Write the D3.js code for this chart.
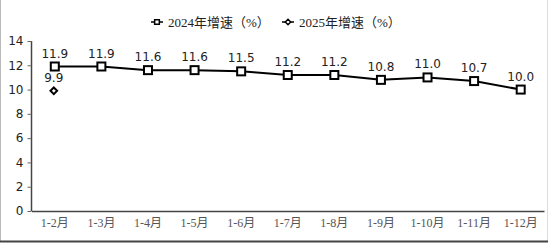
<!DOCTYPE html>
<html>
<head>
<meta charset="utf-8">
<script src="https://cdn.jsdelivr.net/npm/d3@7"></script>
<style>
body { margin: 0; background: #fff; }
svg { display: block; }
</style>
</head>
<body>
<div id="chart"></div>
<script>
var WIDTH = 548;
var HEIGHT = 243;

var months = ['1-2月', '1-3月', '1-4月', '1-5月', '1-6月', '1-7月', '1-8月', '1-9月', '1-10月', '1-11月', '1-12月'];
var growth2024 = [11.9, 11.9, 11.6, 11.6, 11.5, 11.2, 11.2, 10.8, 11.0, 10.7, 10.0];
var growth2025 = [9.9];
var yTicks = [0, 2, 4, 6, 8, 10, 12, 14];
var seriesNames = ['2024年增速（%）', '2025年增速（%）'];

var plotLeft = 31.5, plotRight = 544, plotTop = 41, plotBottom = 211;

var svg = d3.select('#chart').append('svg')
	.attr('width', WIDTH)
	.attr('height', HEIGHT);

// frame
svg.append('line').attr('x1', 0.5).attr('x2', 0.5).attr('y1', 0).attr('y2', 241)
	.attr('stroke', '#bbb');
svg.append('line').attr('x1', 547.5).attr('x2', 547.5).attr('y1', 0).attr('y2', 241)
	.attr('stroke', '#ddd');
svg.append('line').attr('x1', 0).attr('x2', WIDTH).attr('y1', 241.5).attr('y2', 241.5)
	.attr('stroke', '#444').attr('stroke-width', 2);

var x = d3.scaleBand().domain(months).range([plotLeft, plotRight]);
var y = d3.scaleLinear().domain([0, 14]).range([plotBottom, plotTop]);

function cx(i) { return x(months[i]) + x.bandwidth()/2; }

// y axis
var yAxis = svg.append('g')
	.attr('transform', 'translate('+plotLeft+',0)')
	.call(d3.axisLeft(y).tickValues(yTicks).tickSize(4).tickPadding(4));
yAxis.select('.domain').attr('stroke', '#444').attr('stroke-width', 1.5).attr('d', 'M0,'+plotTop+'V'+plotBottom);
yAxis.selectAll('.tick line').attr('stroke', '#666');
yAxis.selectAll('text')
	.attr('font-family', '"DejaVu Sans", sans-serif')
	.attr('font-size', 12)
	.attr('fill', '#222');

// x axis
var xAxis = svg.append('g')
	.attr('transform', 'translate(0,'+plotBottom+')')
	.call(d3.axisBottom(x).tickSize(0).tickPadding(7));
xAxis.select('.domain').attr('stroke', '#444').attr('stroke-width', 1.5);
xAxis.selectAll('text')
	.attr('font-family', '"Liberation Serif", "Noto Sans CJK SC", serif')
	.attr('font-size', 12)
	.attr('fill', '#555');

// 2024 line
var line = d3.line()
	.x(function(d, i) { return cx(i); })
	.y(function(d) { return y(d); });

svg.append('path')
	.datum(growth2024)
	.attr('d', line)
	.attr('fill', 'none')
	.attr('stroke', '#000')
	.attr('stroke-width', 2);

svg.selectAll('.sq')
	.data(growth2024)
	.enter().append('rect')
	.attr('x', function(d, i) { return cx(i) - 4; })
	.attr('y', function(d) { return y(d) - 4; })
	.attr('width', 8)
	.attr('height', 8)
	.attr('fill', '#fff')
	.attr('stroke', '#000')
	.attr('stroke-width', 2);

svg.selectAll('.lab24')
	.data(growth2024)
	.enter().append('text')
	.attr('x', function(d, i) { return cx(i); })
	.attr('y', function(d) { return y(d) - 9; })
	.attr('text-anchor', 'middle')
	.attr('font-family', '"DejaVu Sans", sans-serif')
	.attr('font-size', 12)
	.attr('fill', '#222')
	.text(function(d) { return d.toFixed(1); });

// 2025 points
var diamond = d3.symbol().type(d3.symbolDiamond2).size(28);

svg.selectAll('.dm')
	.data(growth2025)
	.enter().append('path')
	.attr('d', diamond)
	.attr('transform', function(d, i) { return 'translate('+(cx(i)-1)+','+y(d)+')'; })
	.attr('fill', '#fff')
	.attr('stroke', '#000')
	.attr('stroke-width', 2);

svg.selectAll('.lab25')
	.data(growth2025)
	.enter().append('text')
	.attr('x', function(d, i) { return cx(i) - 1; })
	.attr('y', function(d) { return y(d) - 9; })
	.attr('text-anchor', 'middle')
	.attr('font-family', '"DejaVu Sans", sans-serif')
	.attr('font-size', 12)
	.attr('fill', '#222')
	.text(function(d) { return d.toFixed(1); });

// legend
var legendX = [157, 288];
var legend = svg.selectAll('.leg')
	.data(seriesNames)
	.enter().append('g')
	.attr('transform', function(d, i) { return 'translate('+legendX[i]+',22)'; });

legend.append('line')
	.attr('x1', -6).attr('x2', 6)
	.attr('stroke', '#000').attr('stroke-width', 1.5);
legend.append('path')
	.attr('d', function(d, i) {
		return i === 0 ? d3.symbol().type(d3.symbolSquare).size(22)() : d3.symbol().type(d3.symbolDiamond2).size(18)();
	})
	.attr('fill', '#fff')
	.attr('stroke', '#000')
	.attr('stroke-width', 1.5);
legend.append('text')
	.attr('x', 11)
	.attr('y', 4.5)
	.attr('font-family', '"Liberation Serif", "Noto Sans CJK SC", serif')
	.attr('font-size', 13)
	.attr('fill', '#222')
	.text(function(d) { return d; });
</script>
</body>
</html>
